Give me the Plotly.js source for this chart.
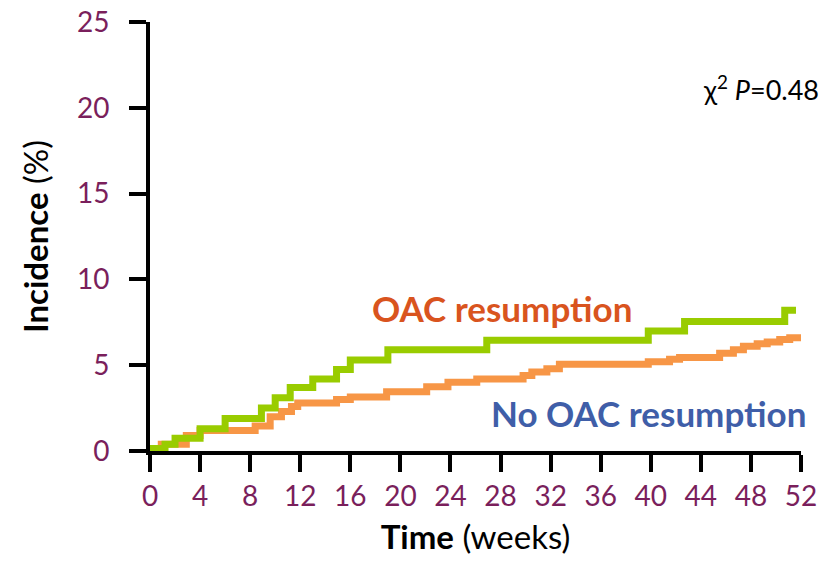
<!DOCTYPE html>
<html>
<head>
<meta charset="utf-8">
<script src="https://cdn.plot.ly/plotly-3.0.1.min.js"></script>
<style>html,body{margin:0;padding:0;background:#fff;}#chart{width:833px;height:562px;}</style>
</head>
<body>
<div id="chart"></div>
<script>
// Step-curve data (weeks, cumulative incidence %)
var greenWeeks = [0, 1.2, 2.0, 4.0, 6.0, 8.9, 10.0, 11.2, 13.0, 14.9, 16.0, 19.0, 26.9, 39.8, 42.7, 50.7, 51.6];
var greenIncidence = [0.15, 0.4, 0.75, 1.3, 1.9, 2.5, 3.1, 3.7, 4.2, 4.75, 5.3, 5.9, 6.45, 7.0, 7.55, 8.2, 8.2];

var orangeWeeks = [0, 0.9, 2.9, 4.0, 8.4, 9.6, 10.5, 11.3, 11.8, 14.9, 16.0, 18.9, 22.1, 23.8, 26.1, 29.8, 30.5, 31.7, 32.7, 39.8, 41.5, 42.3, 45.5, 46.6, 47.4, 48.5, 49.3, 50.3, 51.1, 52];
var orangeIncidence = [0.15, 0.4, 0.9, 1.2, 1.45, 2.0, 2.3, 2.6, 2.8, 3.0, 3.15, 3.45, 3.75, 4.0, 4.2, 4.4, 4.6, 4.8, 5.05, 5.2, 5.35, 5.45, 5.7, 5.9, 6.1, 6.25, 6.35, 6.5, 6.6, 6.6];

var xTicks = [0, 4, 8, 12, 16, 20, 24, 28, 32, 36, 40, 44, 48, 52];
var yTicks = [0, 5, 10, 15, 20, 25];

var labelOAC = "OAC resumption";
var labelNoOAC = "No OAC resumption";
var statText = "χ<sup>2</sup> <i>P</i>=0.48";

var FONT = "Lato, Carlito, 'Open Sans', sans-serif";
var tickColor = "#7a1f5c";

var traces = [
  {x: orangeWeeks, y: orangeIncidence, mode: "lines", line: {shape: "hv", color: "#f79646", width: 7}, name: labelNoOAC, hoverinfo: "skip"},
  {x: greenWeeks, y: greenIncidence, mode: "lines", line: {shape: "hv", color: "#99cc00", width: 7}, name: labelOAC, hoverinfo: "skip"}
];

var layout = {
  width: 833, height: 562,
  margin: {l: 150, r: 32, t: 22, b: 111},
  paper_bgcolor: "#fff", plot_bgcolor: "#fff",
  showlegend: false,
  font: {family: FONT, color: "#000"},
  xaxis: {
    range: [0, 52], tickvals: xTicks, ticktext: xTicks.map(String),
    showgrid: false, zeroline: false, showline: true, linecolor: "#000", linewidth: 4,
    ticks: "outside", ticklen: 17, tickwidth: 4, tickcolor: "#000",
    tickfont: {size: 28, color: tickColor, family: FONT}, ticklabelstandoff: 0,
    title: {text: "<b>Time</b> (weeks)", font: {size: 33, color: "#000", family: FONT}, standoff: 16},
    fixedrange: true
  },
  yaxis: {
    range: [0, 25], tickvals: yTicks, ticktext: yTicks.map(String),
    showgrid: false, zeroline: false, showline: true, linecolor: "#000", linewidth: 4,
    ticks: "outside", ticklen: 17, tickwidth: 4, tickcolor: "#000",
    tickfont: {size: 28, color: tickColor, family: FONT}, ticklabelstandoff: 14,
    title: {text: "<b>Incidence</b> (%)", font: {size: 33, color: "#000", family: FONT}, standoff: 19},
    fixedrange: true
  },
  annotations: [
    {x: 28.1, y: 8.35, xref: "x", yref: "y", text: "<b>" + labelOAC + "</b>", showarrow: false, font: {size: 35, color: "#d9541e", family: FONT}},
    {x: 39.8, y: 2.2, xref: "x", yref: "y", text: "<b>" + labelNoOAC + "</b>", showarrow: false, font: {size: 35, color: "#3f5ea8", family: FONT}},
    {x: 48.8, y: 21.15, xref: "x", yref: "y", text: statText, showarrow: false, font: {size: 27, color: "#000", family: FONT}}
  ]
};

Plotly.newPlot("chart", traces, layout, {displayModeBar: false, staticPlot: true});
</script>
</body>
</html>
